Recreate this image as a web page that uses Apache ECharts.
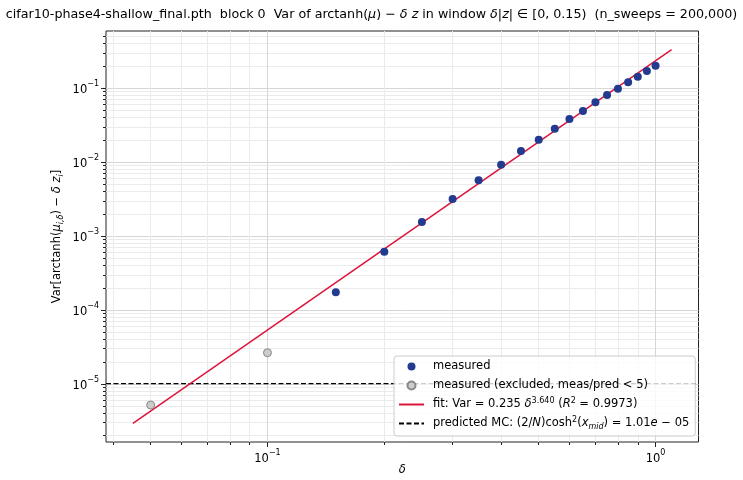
<!DOCTYPE html>
<html><head><meta charset="utf-8">
<script src="https://cdn.jsdelivr.net/npm/echarts@6/dist/echarts.min.js"></script>
<style>html,body{margin:0;padding:0;background:#fff}#c{width:743px;height:480px}</style>
</head><body><div id="c"></div>
<script>
// ---- data ----
const measuredDelta = [0.15, 0.2, 0.25, 0.3, 0.35, 0.4, 0.45, 0.5, 0.55, 0.6, 0.65, 0.7, 0.75, 0.8, 0.85, 0.9, 0.95, 1.0];
const measuredVar   = [1.74e-4, 6.16e-4, 1.55e-3, 3.18e-3, 5.69e-3, 9.25e-3, 1.415e-2, 2.01e-2, 2.84e-2, 3.84e-2, 4.92e-2, 6.46e-2, 8.11e-2, 9.86e-2, 0.1202, 0.1432, 0.1710, 0.2018];
const excludedDelta = [0.05, 0.1];
const excludedVar   = [5.2e-6, 2.65e-5];
const fitDelta = [0.045, 1.1];
const fitVar   = [2.94e-6, 0.3326];
const predictedMC = 1.01e-5;
const xRange = [0.03836, 1.2903];
const yRange = [1.644e-6, 0.5947];
const xMajorTicks = [0.1, 1];
const yMajorTicks = [1e-5, 1e-4, 1e-3, 1e-2, 1e-1];
const xMinorTicks = [0.04, 0.05, 0.06, 0.07, 0.08, 0.09, 0.2, 0.3, 0.4, 0.5, 0.6, 0.7, 0.8, 0.9];
const yMinorTicks = [2e-6,3e-6,4e-6,5e-6,6e-6,7e-6,8e-6,9e-6,
                     2e-5,3e-5,4e-5,5e-5,6e-5,7e-5,8e-5,9e-5,
                     2e-4,3e-4,4e-4,5e-4,6e-4,7e-4,8e-4,9e-4,
                     2e-3,3e-3,4e-3,5e-3,6e-3,7e-3,8e-3,9e-3,
                     2e-2,3e-2,4e-2,5e-2,6e-2,7e-2,8e-2,9e-2,
                     2e-1,3e-1,4e-1,5e-1];
const seriesNames = ['measured', 'measured (excluded, meas/pred < 5)', 'fit: Var = 0.235 δ^3.640 (R^2 = 0.9973)', 'predicted MC: (2/N)cosh^2(x_mid) = 1.01e-05'];
const legendRich = {};
legendRich[seriesNames[0]] = 'measured';
legendRich[seriesNames[1]] = 'measured (excluded, meas/pred < 5)';
legendRich[seriesNames[2]] = 'fit: Var = 0.235 {i|δ}{sup|3.640} ({i|R}{sup|2} = 0.9973)';
legendRich[seriesNames[3]] = 'predicted MC: (2/{i|N})cosh{sup|2}({i|x}{subi|mid}) = 1.01{i|e} − 05';

const FF = 'DejaVu Sans';
const LF = 11.5;
const fmtPow = v => { const e = Math.round(Math.log10(v)); return '{b|10}{s|' + (e < 0 ? '−' + (-e) : e) + '}'; };
const labRich = {
  b: {fontFamily: FF, fontSize: 11.5, color: '#000', lineHeight: 16, verticalAlign: 'bottom'},
  s: {fontFamily: FF, fontSize: 8, color: '#000', lineHeight: 10, verticalAlign: 'top'}
};
const mathRich = {
  i: {fontFamily: FF, fontSize: LF, fontStyle: 'italic', color: '#000'},
  sup: {fontFamily: FF, fontSize: 8, color: '#000', verticalAlign: 'top', lineHeight: 9},
  sub: {fontFamily: FF, fontSize: 8, color: '#000', verticalAlign: 'bottom', lineHeight: 9},
  subi: {fontFamily: FF, fontSize: 8, fontStyle: 'italic', color: '#000', verticalAlign: 'bottom', lineHeight: 9}
};
const hiddenSymbol = {color: 'rgba(0,0,0,0)', borderColor: 'rgba(0,0,0,0)', borderWidth: 0};

const chart = echarts.init(document.getElementById('c'), null, {renderer: 'canvas'});
const tickStyle = {color: '#222', width: 1};
chart.setOption({
  animation: false,
  backgroundColor: '#fff',
  title: {
    text: 'cifar10-phase4-shallow_final.pth  block 0  Var of arctanh({i|μ}) − {i|δ z} in window {i|δ}|{i|z}| ∈ [0, 0.15)  (n_sweeps = 200,000)',
    left: 'center', top: 2,
    textStyle: {fontFamily: FF, fontSize: 12.7, fontWeight: 'normal', color: '#000', lineHeight: 16,
      rich: {i: {fontFamily: FF, fontSize: 12.7, fontStyle: 'italic', color: '#000'}}}
  },
  grid: {left: 106, right: 44.5, top: 31, bottom: 38, containLabel: false, outerBoundsMode: 'none',
         show: true, borderColor: '#222', borderWidth: 1, backgroundColor: 'transparent'},
  legend: {
    orient: 'vertical', left: 394, top: 356,
    padding: [3, 6, 5, 4], itemGap: 4, itemWidth: 25, itemHeight: 8,
    backgroundColor: 'rgba(255,255,255,0.8)', borderColor: '#cccccc', borderWidth: 1, borderRadius: 3,
    data: [
      {name: seriesNames[0]},
      {name: seriesNames[1]},
      {name: seriesNames[2], itemStyle: hiddenSymbol},
      {name: seriesNames[3], itemStyle: hiddenSymbol}
    ],
    formatter: n => legendRich[n],
    textStyle: {fontFamily: FF, fontSize: LF, color: '#000', lineHeight: 15, padding: [0, 0, 0, 4], rich: mathRich}
  },
  xAxis: [{
    type: 'log', logBase: 10, min: xRange[0], max: xRange[1], position: 'bottom',
    axisLine: {show: false},
    axisTick: {show: true, customValues: xMajorTicks, length: 5, lineStyle: tickStyle},
    axisLabel: {customValues: xMajorTicks, formatter: fmtPow, rich: labRich, margin: 7},
    splitLine: {show: true, lineStyle: {color: '#d6d6d6', width: 1}},
    name: 'δ', nameLocation: 'middle', nameGap: 22, nameMoveOverlap: false,
    nameTextStyle: {fontFamily: FF, fontSize: LF, fontStyle: 'italic', color: '#000'}
  }, {
    type: 'log', logBase: 10, min: xRange[0], max: xRange[1], position: 'bottom',
    axisLine: {show: false},
    axisTick: {show: true, customValues: xMinorTicks, length: 3, lineStyle: tickStyle},
    axisLabel: {show: false},
    splitLine: {show: true, lineStyle: {color: '#ebebeb', width: 1}}
  }],
  yAxis: [{
    type: 'log', logBase: 10, min: yRange[0], max: yRange[1], position: 'left',
    axisLine: {show: false},
    axisTick: {show: true, customValues: yMajorTicks, length: 5, lineStyle: tickStyle},
    axisLabel: {customValues: yMajorTicks, formatter: fmtPow, rich: labRich, margin: 7},
    splitLine: {show: true, lineStyle: {color: '#d6d6d6', width: 1}},
    name: 'Var[arctanh({i|μ}{subi|i,δ}) − {i|δ z}{subi|i}]', nameLocation: 'middle', nameGap: 41, nameRotate: 90,
    nameMoveOverlap: false,
    nameTextStyle: {fontFamily: FF, fontSize: LF, color: '#000', lineHeight: 16, rich: mathRich}
  }, {
    type: 'log', logBase: 10, min: yRange[0], max: yRange[1], position: 'left',
    axisLine: {show: false},
    axisTick: {show: true, customValues: yMinorTicks, length: 3, lineStyle: tickStyle},
    axisLabel: {show: false},
    splitLine: {show: true, lineStyle: {color: '#ebebeb', width: 1}}
  }],
  series: [{
    name: seriesNames[0], type: 'scatter', xAxisIndex: 0, yAxisIndex: 0, z: 5,
    data: measuredDelta.map((d, k) => [d, measuredVar[k]]),
    symbol: 'circle', symbolSize: 8, itemStyle: {color: '#223a8f', opacity: 1}
  }, {
    name: seriesNames[1], type: 'scatter', xAxisIndex: 0, yAxisIndex: 0, z: 5,
    data: excludedDelta.map((d, k) => [d, excludedVar[k]]),
    symbol: 'circle', symbolSize: 8, itemStyle: {color: '#cccccc', borderColor: '#888888', borderWidth: 1, opacity: 1}
  }, {
    name: seriesNames[2], type: 'line', xAxisIndex: 0, yAxisIndex: 0, z: 4,
    data: fitDelta.map((d, k) => [d, fitVar[k]]),
    symbol: 'none', lineStyle: {color: '#dc143c', width: 1.5}, itemStyle: {color: '#dc143c'}
  }, {
    name: seriesNames[3], type: 'line', xAxisIndex: 0, yAxisIndex: 0, z: 3,
    data: [[xRange[0], predictedMC], [xRange[1], predictedMC]],
    symbol: 'none', lineStyle: {color: '#000', width: 1.3, type: [5, 2.5]}, itemStyle: {color: '#000'}
  }]
});
</script></body></html>
